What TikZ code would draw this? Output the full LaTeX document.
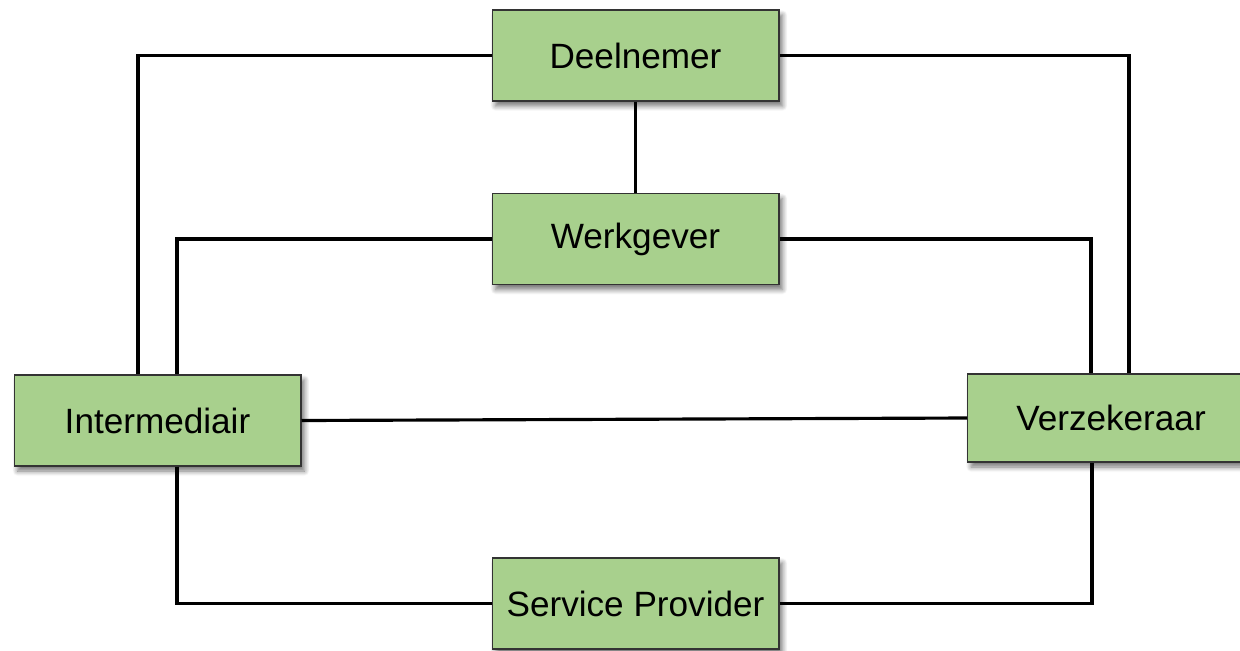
\documentclass[tikz,border=0pt]{standalone}
\usepackage{fontspec}
\setmainfont{Liberation Sans}
\usetikzlibrary{shadows.blur}
\definecolor{boxgreen}{HTML}{A8D08D}
\definecolor{boxborder}{HTML}{333333}
\tikzset{
  entity/.style={draw=boxborder, line width=0.6pt, fill=boxgreen, rectangle,
    minimum width=5.74cm, minimum height=1.82cm, inner sep=0pt,
    font=\fontsize{20}{22}\selectfont,
    blur shadow={shadow xshift=0.07cm, shadow yshift=-0.1cm, shadow blur steps=8, shadow blur radius=0.1cm, shadow opacity=55}},
  link/.style={line width=1.8pt, black}
}
\begin{document}
\begin{tikzpicture}[x=0.02cm, y=-0.02cm]
\useasboundingbox (0,0) rectangle (1240,650);
\node[entity] (D) at (635.5,55.5) {Deelnemer};
\node[entity] (W) at (635.5,239) {Werkgever};
\node[entity] (I) at (157.5,420.5) {Intermediair};
\node[entity, minimum height=1.76cm] (V) at (1111,418) {Verzekeraar};
\node[entity] (S) at (635.5,603.5) {Service Provider};
\draw[link] (D.west) -| ([xshift=-0.39cm]I.north);
\draw[link] (D.east) -| ([xshift=0.36cm]V.north);
\draw[link] (D.south) -- (W.north);
\draw[link] (W.west) -| ([xshift=0.39cm]I.north);
\draw[link] (W.east) -| ([xshift=-0.40cm]V.north);
\draw[link] (I.east) -- (V.west);
\draw[link] ([xshift=0.39cm]I.south) |- (S.west);
\draw[link] (S.east) -| ([xshift=-0.38cm]V.south);
\end{tikzpicture}
\end{document}
